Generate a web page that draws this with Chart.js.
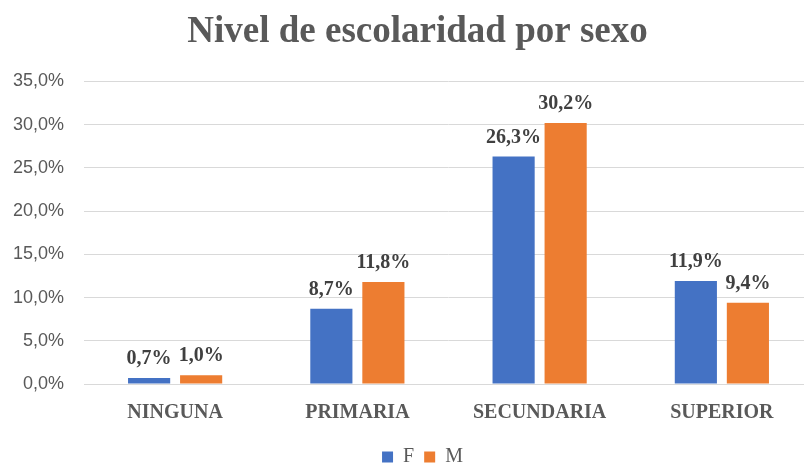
<!DOCTYPE html>
<html>
<head>
<meta charset="utf-8">
<script src="https://cdn.jsdelivr.net/npm/chart.js@4/dist/chart.umd.min.js"></script>
<style>
  html, body { margin: 0; padding: 0; background: #fff; overflow: hidden; }
  #wrap { width: 804px; height: 464px; overflow: hidden; }
</style>
</head>
<body>
<div id="wrap"><canvas id="chart" width="836" height="464"></canvas></div>
<script>
// datos del gráfico
const categorias = ['NINGUNA', 'PRIMARIA', 'SECUNDARIA', 'SUPERIOR'];
const serieF = [0.7, 8.7, 26.3, 11.9];
const serieM = [1.0, 11.8, 30.2, 9.4];

const fmtPct = (v) => v.toFixed(1).replace('.', ',') + '%';

// etiquetas de datos sobre cada barra (sin plugin externo)
const etiquetasBarras = {
  id: 'etiquetasBarras',
  afterDatasetsDraw(chart) {
    const ctx = chart.ctx;
    ctx.save();
    ctx.font = 'bold 20px "Liberation Serif", "Times New Roman", serif';
    ctx.fillStyle = '#404040';
    ctx.textAlign = 'center';
    ctx.textBaseline = 'alphabetic';
    chart.data.datasets.forEach((ds, i) => {
      const meta = chart.getDatasetMeta(i);
      meta.data.forEach((bar, j) => {
        ctx.fillText(fmtPct(ds.data[j]), bar.x, bar.y - 14);
      });
    });
    ctx.restore();
  }
};

// el área del gráfico queda recortada a la derecha: corrige el centrado del título y la leyenda
const desplazarCajas = {
  id: 'desplazarCajas',
  afterLayout(chart) {
    if (chart.titleBlock) {
      chart.titleBlock.left += 11;
      chart.titleBlock.right += 11;
    }
    if (chart.legend) {
      chart.legend.left += 16;
      chart.legend.right += 16;
      chart.legend.top += 2;
      chart.legend.bottom += 2;
    }
  }
};

new Chart(document.getElementById('chart'), {
  type: 'bar',
  data: {
    labels: categorias,
    datasets: [
      { label: 'F', data: serieF, backgroundColor: '#4472C4', categoryPercentage: 0.571, barPercentage: 0.81 },
      { label: 'M', data: serieM, backgroundColor: '#ED7D31', categoryPercentage: 0.571, barPercentage: 0.81 }
    ]
  },
  options: {
    responsive: false,
    animation: false,
    layout: { padding: { left: 0, right: 23, top: 0, bottom: -11 } },
    plugins: {
      title: {
        display: true,
        text: 'Nivel de escolaridad por sexo',
        color: '#595959',
        font: { family: '"Liberation Serif", "Times New Roman", serif', size: 37, weight: 'bold' },
        padding: { top: 10, bottom: 27 }
      },
      legend: {
        position: 'bottom',
        labels: {
          boxWidth: 11,
          boxHeight: 11,
          padding: 10,
          color: '#595959',
          font: { family: '"Liberation Serif", "Times New Roman", serif', size: 20 }
        }
      },
      tooltip: { enabled: false }
    },
    scales: {
      x: {
        afterFit(scale) { scale.height = 51; },
        grid: { display: false },
        border: { color: '#D9D9D9' },
        ticks: {
          color: '#595959',
          padding: 9,
          font: { family: '"Liberation Serif", "Times New Roman", serif', size: 20, weight: 'bold' }
        }
      },
      y: {
        min: 0,
        max: 35,
        afterFit(scale) { scale.width = 84; },
        border: { display: false },
        grid: { color: '#D9D9D9', drawTicks: false },
        ticks: {
          stepSize: 5,
          padding: 20,
          color: '#595959',
          font: { family: '"Liberation Sans", Arial, sans-serif', size: 18 },
          callback: (v) => fmtPct(v)
        }
      }
    }
  },
  plugins: [etiquetasBarras, desplazarCajas]
});
</script>
</body>
</html>
